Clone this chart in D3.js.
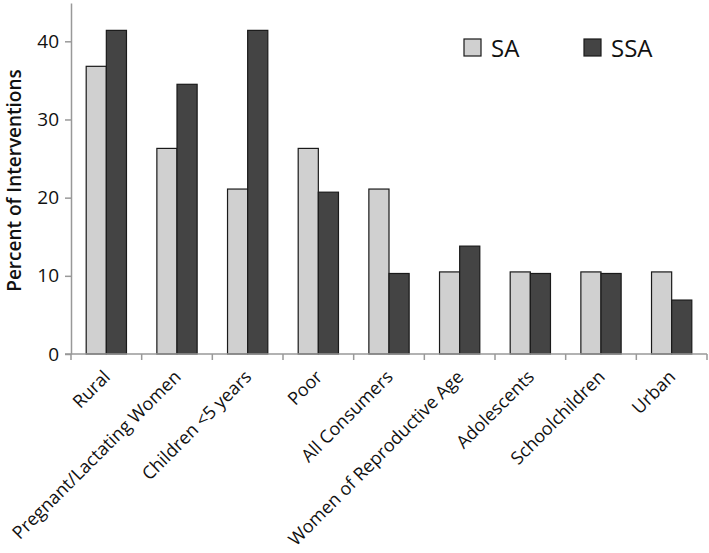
<!DOCTYPE html>
<html>
<head>
<meta charset="utf-8">
<script src="https://cdn.jsdelivr.net/npm/d3@7"></script>
<style>
  body { margin: 0; background: #fff; }
  svg text { font-family: "Open Sans", "Noto Sans", sans-serif; fill: #111; }
</style>
</head>
<body>
<div id="chart"></div>
<script>
// categories and series (percent of interventions)
const categories = ["Rural", "Pregnant/Lactating Women", "Children <5 years", "Poor", "All Consumers",
  "Women of Reproductive Age", "Adolescents", "Schoolchildren", "Urban"];
const seriesNames = ["SA", "SSA"];
const saValues = [36.8, 26.3, 21.1, 26.3, 21.1, 10.5, 10.5, 10.5, 10.5];
const ssaValues = [41.4, 34.5, 41.4, 20.7, 10.3, 13.8, 10.3, 10.3, 6.9];
const yTicks = [0, 10, 20, 30, 40];

const width = 709, height = 553;
const margin = { top: 3, right: 2, bottom: 199, left: 71 };
const innerW = width - margin.left - margin.right;
const innerH = height - margin.top - margin.bottom;
const colors = { SA: "#d0d0d0", SSA: "#444444" };

const svg = d3.select("#chart").append("svg")
    .attr("width", width)
    .attr("height", height);

const g = svg.append("g")
    .attr("transform", `translate(${margin.left},${margin.top})`);

// scales
const x0 = d3.scaleBand().domain(categories).range([0, innerW]).paddingInner(0.43).paddingOuter(0.215);
const xEdges = d3.scaleBand().domain(categories).range([0, innerW]);
const x1 = d3.scaleBand().domain(seriesNames).range([0, x0.bandwidth()]);
const y = d3.scaleLinear().domain([0, 44.9]).range([innerH, 0]);

const rows = categories.map((c, i) => ({ cat: c, SA: saValues[i], SSA: ssaValues[i] }));

// bars
const groups = g.selectAll("g.grp").data(rows).join("g")
    .attr("class", "grp")
    .attr("transform", d => `translate(${x0(d.cat)},0)`);

groups.selectAll("rect").data(d => seriesNames.map(k => ({ key: k, value: d[k] }))).join("rect")
    .attr("x", d => x1(d.key))
    .attr("y", d => y(d.value))
    .attr("width", x1.bandwidth())
    .attr("height", d => innerH - y(d.value))
    .attr("fill", d => colors[d.key])
    .attr("stroke", "#1a1a1a")
    .attr("stroke-width", 1.2);

// y axis
const yAxis = g.append("g")
    .call(d3.axisLeft(y).tickValues(yTicks).tickSize(6).tickPadding(6).tickSizeOuter(0));
yAxis.select(".domain").attr("stroke", "#999").attr("stroke-width", 1.5);
yAxis.selectAll(".tick line").attr("stroke", "#999").attr("stroke-width", 1.5);
yAxis.selectAll(".tick text").style("font-size", "19px").attr("fill", "#111");

// x axis line and ticks at band edges
const xAxisG = g.append("g").attr("transform", `translate(0,${innerH})`);
xAxisG.append("line")
    .attr("x1", -6).attr("x2", innerW)
    .attr("stroke", "#999").attr("stroke-width", 1.5);
xAxisG.selectAll("line.edge").data(categories.map(c => xEdges(c)).concat([innerW])).join("line")
    .attr("class", "edge")
    .attr("x1", d => d).attr("x2", d => d)
    .attr("y1", 0).attr("y2", 6)
    .attr("stroke", "#999").attr("stroke-width", 1.5);

xAxisG.selectAll("text.cat").data(categories).join("text")
    .attr("class", "cat")
    .attr("text-anchor", "end")
    .attr("transform", d => `translate(${x0(d) + x0.bandwidth() / 2 + 5},${24}) rotate(-45)`)
    .style("font-size", "18px")
    .text(d => d);

// y label
svg.append("text")
    .attr("transform", `translate(21,${margin.top + innerH / 2 + 2}) rotate(-90)`)
    .attr("text-anchor", "middle")
    .style("font-size", "19px")
    .style("font-weight", "600")
    .text("Percent of Interventions");

// legend
const legendX = [464, 584];
const legend = svg.append("g").selectAll("g").data(seriesNames).join("g")
    .attr("transform", (d, i) => `translate(${legendX[i]},39)`);
legend.append("rect")
    .attr("width", 17).attr("height", 17)
    .attr("fill", d => colors[d])
    .attr("stroke", "#1a1a1a").attr("stroke-width", 1.2);
legend.append("text")
    .attr("x", 27).attr("y", 18)
    .style("font-size", "24px")
    .text(d => d);
</script>
</body>
</html>
